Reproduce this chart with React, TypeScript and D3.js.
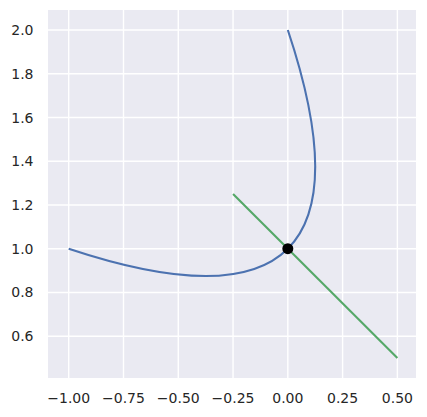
import React from "react";
import * as d3 from "d3";

// Quadratic Bezier curve: start, control, end points
const curveStart: [number, number] = [-1, 1];
const curveControl: [number, number] = [0.5, 0.5];
const curveEnd: [number, number] = [0, 2];

// Green straight line segment
const lineX = [-0.25, 0.5];
const lineY = [1.25, 0.5];

// Black point
const pointX = [0];
const pointY = [1];

const xTicks = [-1.0, -0.75, -0.5, -0.25, 0.0, 0.25, 0.5];
const yTicks = [0.6, 0.8, 1.0, 1.2, 1.4, 1.6, 1.8, 2.0];

const W = 427;
const H = 417;
const left = 48;
const right = 416;
const top = 10;
const bottom = 378;

export default function App() {
  React.useEffect(() => {
    document.body.style.margin = "0";
  }, []);

  const x = d3.scaleLinear().domain([-1.0945, 0.585]).range([left, right]);
  const y = d3.scaleLinear().domain([0.409, 2.0915]).range([bottom, top]);

  const p = d3.path();
  p.moveTo(x(curveStart[0]), y(curveStart[1]));
  p.quadraticCurveTo(
    x(curveControl[0]),
    y(curveControl[1]),
    x(curveEnd[0]),
    y(curveEnd[1])
  );

  const green = d3
    .line<number>()
    .x((d) => x(lineX[d]))
    .y((d) => y(lineY[d]))(lineX.map((_, i) => i));

  const fmtX = (v: number) => {
    const s = Math.abs(v).toFixed(2);
    return v < 0 ? "\u2212" + s : s;
  };
  const fmtY = (v: number) => v.toFixed(1);

  const font = "'DejaVu Sans', sans-serif";

  return (
    <svg width={W} height={H} style={{ display: "block" }}>
      <rect x={0} y={0} width={W} height={H} fill="#ffffff" />
      <rect
        x={left}
        y={top}
        width={right - left}
        height={bottom - top}
        fill="#eaeaf2"
      />
      <g stroke="#ffffff" strokeWidth={1.4}>
        {xTicks.map((t) => (
          <line key={"gx" + t} x1={x(t)} x2={x(t)} y1={top} y2={bottom} />
        ))}
        {yTicks.map((t) => (
          <line key={"gy" + t} x1={left} x2={right} y1={y(t)} y2={y(t)} />
        ))}
      </g>
      <path
        d={p.toString()}
        fill="none"
        stroke="#4c72b0"
        strokeWidth={2.1}
        strokeLinecap="butt"
      />
      <path d={green || ""} fill="none" stroke="#55a868" strokeWidth={2.1} />
      {pointX.map((px, i) => (
        <circle key={i} cx={x(px)} cy={y(pointY[i])} r={5.5} fill="#000000" />
      ))}
      <g fill="#262626" fontFamily={font} fontSize={14}>
        {xTicks.map((t) => (
          <text key={"tx" + t} x={x(t)} y={403} textAnchor="middle">
            {fmtX(t)}
          </text>
        ))}
        {yTicks.map((t) => (
          <text
            key={"ty" + t}
            x={33.5}
            y={y(t)}
            textAnchor="end"
            dominantBaseline="central"
          >
            {fmtY(t)}
          </text>
        ))}
      </g>
    </svg>
  );
}
